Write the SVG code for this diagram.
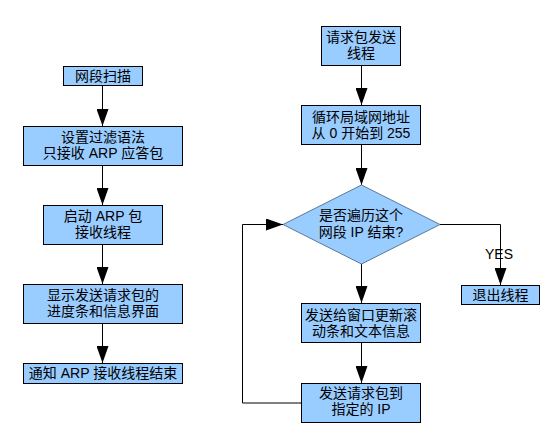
<svg xmlns="http://www.w3.org/2000/svg" width="560" height="448" viewBox="0 0 560 448">
<style>
.b{fill:#99CCFF;stroke:#000;stroke-width:1}
.t{font-family:"Liberation Sans","Noto Sans CJK SC",sans-serif;font-size:14px;fill:#000;text-anchor:middle}
.c{fill:none;stroke:#000;stroke-width:1}
</style>
<defs>
<marker id="ah" viewBox="0 0 17 12" refX="17" refY="6" markerWidth="17" markerHeight="12" markerUnits="userSpaceOnUse" orient="auto">
<path d="M0,0 L17,6 L0,12 Z" fill="#000"/>
</marker>
</defs>
<rect width="560" height="448" fill="#fff"/>
<g id="connectors">
<path class="c" d="M102.5,85 V126" marker-end="url(#ah)"/>
<path class="c" d="M102.5,165 V205" marker-end="url(#ah)"/>
<path class="c" d="M102.5,244 V284" marker-end="url(#ah)"/>
<path class="c" d="M102.5,324 V363" marker-end="url(#ah)"/>
<path class="c" d="M361.5,66 V105" marker-end="url(#ah)"/>
<path class="c" d="M361.5,145 V185" marker-end="url(#ah)"/>
<path class="c" d="M361.5,264 V303" marker-end="url(#ah)"/>
<path class="c" d="M361.5,343 V383" marker-end="url(#ah)"/>
<path class="c" d="M301,403 H242.5 V224.5 H283" marker-end="url(#ah)"/>
<path class="c" d="M440,224.5 H500.5 V285" marker-end="url(#ah)"/>
</g>
<g id="n1"><rect class="b" x="63.5" y="66.5" width="79" height="19"/><text class="t" x="103" y="81">网段扫描</text></g>
<g id="n2"><rect class="b" x="23.5" y="126.5" width="159" height="39"/><text class="t" x="103" y="142">设置过滤语法</text><text class="t" x="103" y="158">只接收 ARP 应答包</text></g>
<g id="n3"><rect class="b" x="43.5" y="205.5" width="119" height="39"/><text class="t" x="103" y="221">启动 ARP 包</text><text class="t" x="103" y="237">接收线程</text></g>
<g id="n4"><rect class="b" x="23.5" y="284.5" width="159" height="39"/><text class="t" x="103" y="300">显示发送请求包的</text><text class="t" x="103" y="316">进度条和信息界面</text></g>
<g id="n5"><rect class="b" x="23.5" y="363.5" width="159" height="20"/><text class="t" x="103" y="378">通知 ARP 接收线程结束</text></g>
<g id="r1"><rect class="b" x="321.5" y="26.5" width="79" height="39"/><text class="t" x="361" y="42">请求包发送</text><text class="t" x="361" y="58">线程</text></g>
<g id="r2"><rect class="b" x="301.5" y="105.5" width="119" height="39"/><text class="t" x="361" y="122">循环局域网地址</text><text class="t" x="361" y="138">从 0 开始到 255</text></g>
<g id="d1"><polygon class="b" points="361.5,185 440,224.5 361.5,264 283,224.5" style="stroke:#5a7a99"/><text class="t" x="361" y="220">是否遍历这个</text><text class="t" x="361" y="237">网段 IP 结束?</text></g>
<g id="r3"><rect class="b" x="301.5" y="303.5" width="119" height="39"/><text class="t" x="361" y="320">发送给窗口更新滚</text><text class="t" x="361" y="336">动条和文本信息</text></g>
<g id="r4"><rect class="b" x="301.5" y="383.5" width="119" height="39"/><text class="t" x="361" y="398">发送请求包到</text><text class="t" x="361" y="414">指定的 IP</text></g>
<g id="r5"><rect class="b" x="461.5" y="285.5" width="78" height="19"/><text class="t" x="500.5" y="300">退出线程</text></g>
<text class="t" x="499" y="259">YES</text>
</svg>
